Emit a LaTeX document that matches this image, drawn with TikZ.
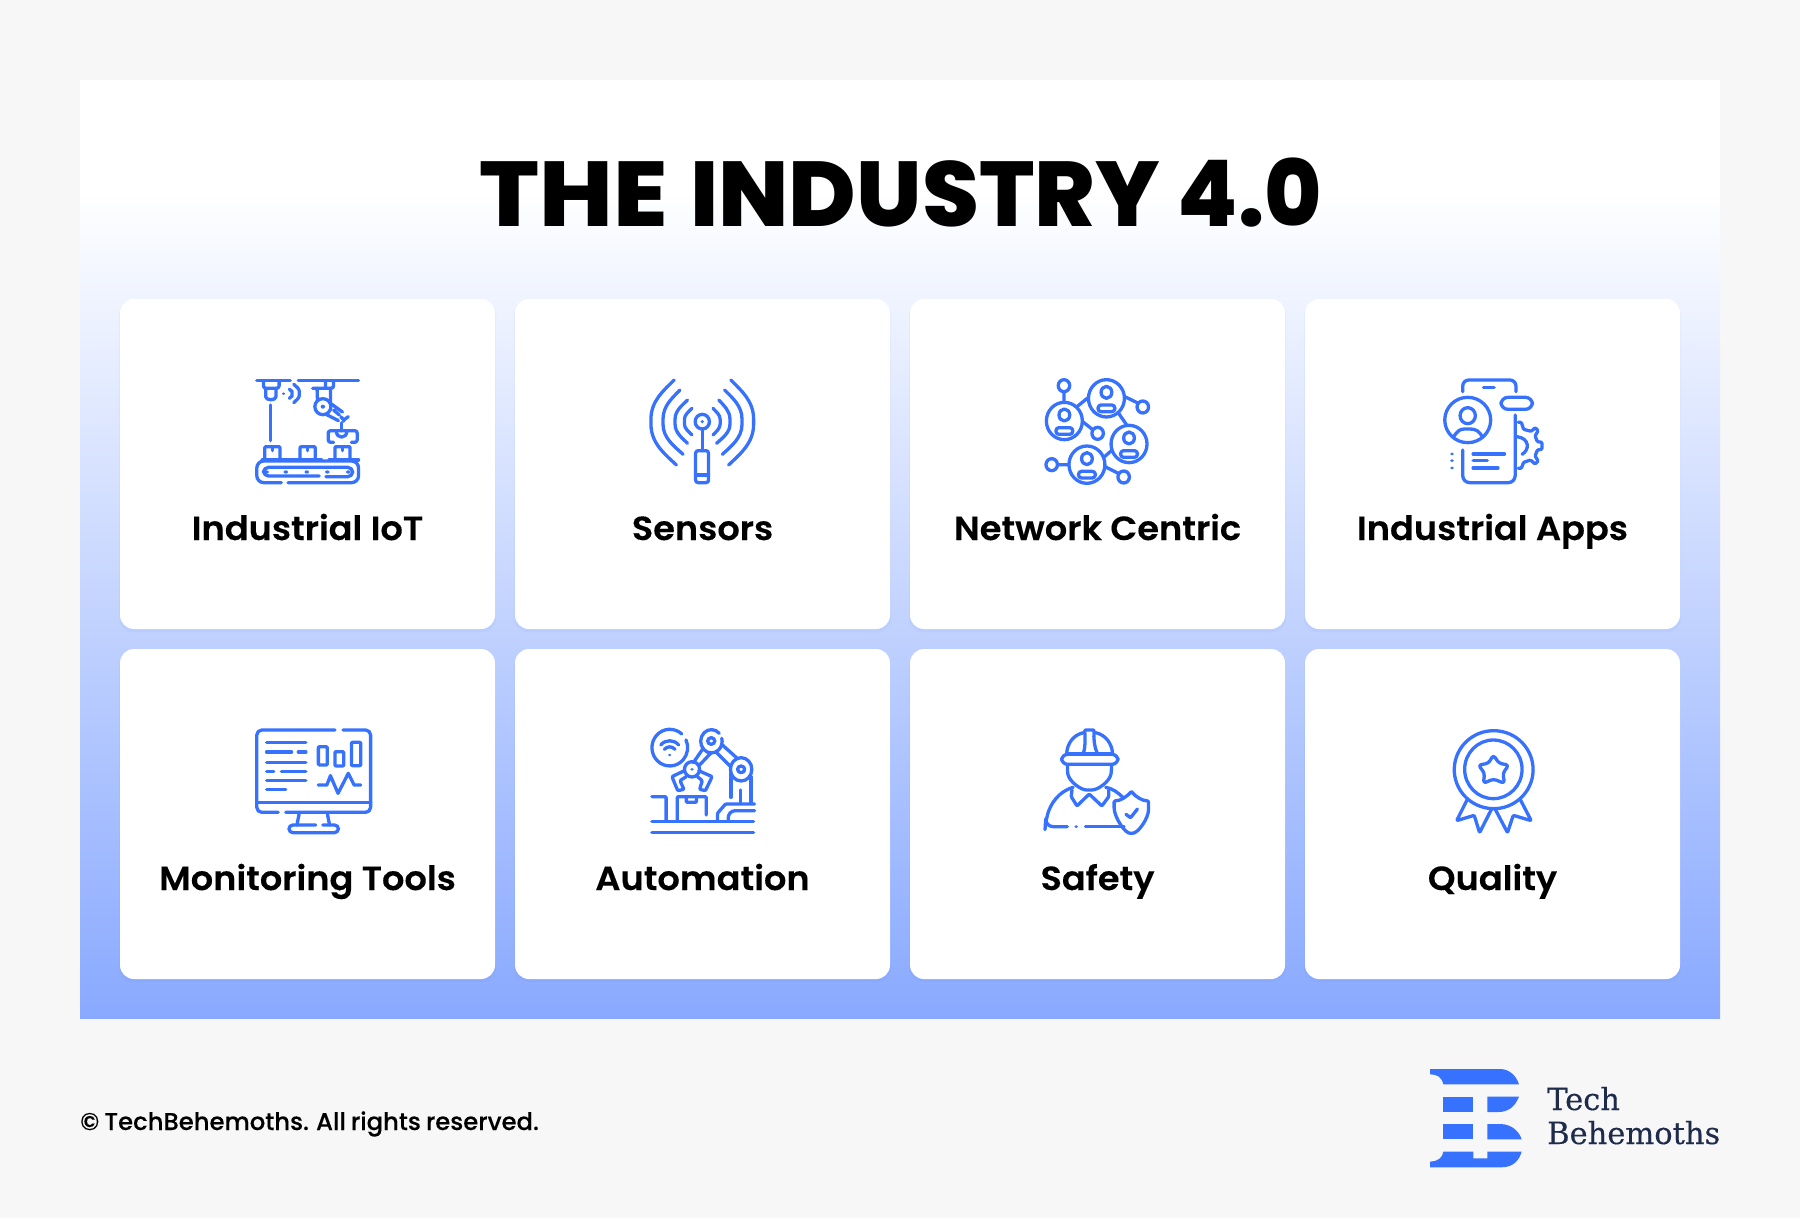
\documentclass[tikz,border=0pt]{standalone}
\usepackage{fontspec}
\setmainfont{Poppins}
\newfontfamily\titlefont{Poppins}[UprightFont=* ExtraBold]
\newfontfamily\labelfont{Poppins}[UprightFont=* SemiBold,FakeStretch=1.05,FakeBold=0.2]
\newfontfamily\footfont{Poppins}[UprightFont=* Medium,WordSpace=0.8,FakeBold=0.15]
\newfontfamily\logofont{DejaVu Serif}[FakeBold=0.35]
\definecolor{bgc}{HTML}{F7F7F7}
\definecolor{iconblue}{HTML}{3772FF}
\definecolor{panelend}{HTML}{89A9FF}
\definecolor{logotext}{HTML}{1F2B4A}
\tikzset{
  card/.style={fill=white,rounded corners=14pt},
  shadowcard/.style={fill=iconblue,fill opacity=0.05,rounded corners=14pt},
  lab/.style={anchor=base,font=\labelfont\fontsize{33.5}{33.5}\selectfont,text=black,inner sep=0pt},
  ic/.style={draw=iconblue,line width=3.3pt,line cap=round,line join=round,rounded corners=2.5pt},
  zA/.style={shift={(230,360)},x=0.4464pt,y=-0.3333pt},
  zB/.style={shift={(1010,360)},x=0.3827pt,y=-0.3333pt},
  zC/.style={shift={(230,710)},x=0.4464pt,y=-0.3333pt},
  zD/.style={shift={(1010,710)},x=0.3827pt,y=-0.3333pt},
  zE/.style={shift={(1400,1050)},x=0.3333pt,y=-0.3333pt},
}
\newcommand{\person}[2]{%
  \path[ic] (#1,#2) ellipse [x radius=47,y radius=56];
  \path[ic] (#1,#2-18) ellipse [x radius=14,y radius=18];
  \path[ic,rounded corners=3pt] (#1-22,#2+40)--(#1-22,#2+20)--(#1+22,#2+20)--(#1+22,#2+40)--cycle;
}
\newcommand{\sat}[2]{\path[ic] (#1,#2) ellipse [x radius=15,y radius=18];}
\newcommand{\boxy}[1]{%
  \path[ic,rounded corners=1pt] (#1,298)--(#1,260)--(#1+34,260)--(#1+34,298);
  \path[ic] (#1+17,260)--(#1+17,272);
}
% arc from (ax,ay) through the extreme point (mx,my) to (bx,by)
\newcommand{\carc}[6]{\path[ic] (#1,#2) .. controls ({#1+0.45*(#3-(#1))},{#2+0.25*(#4-(#2))}) and (#3,{#4-0.5*(#4-(#2))}) .. (#3,#4) .. controls (#3,{#4+0.5*(#6-(#4))}) and ({#5+0.45*(#3-(#5))},{#6+0.25*(#4-(#6))}) .. (#5,#6);}
\begin{document}
\begin{tikzpicture}[x=1pt,y=-1pt]
\useasboundingbox (0,0) rectangle (1800,1218);
\fill[bgc] (0,0) rectangle (1800,1218);
\fill[white] (80,80) rectangle (1720,191);
\shade[top color=white,bottom color=panelend] (80,190) rectangle (1720,1018);
\node[anchor=base,inner sep=0pt] (title) at (901,226) {\titlefont\fontsize{92}{92}\selectfont \scalebox{1.08}[1]{THE}\hspace{22pt}INDUSTRY\hspace{18pt}\scalebox{0.95}[1]{4.0}};
% cards
\foreach \xx in {120,515,910,1305}{
  \foreach \yy in {299,649}{
    \fill[shadowcard] (\xx-1,\yy+2) rectangle (\xx+376,\yy+333);
    \fill[card] (\xx,\yy) rectangle (\xx+375,\yy+330);
  }
}
\node[lab] (l1) at (307.5,540) {Industrial IoT};
\node[lab] (l2) at (702.5,540) {Sensors};
\node[lab] (l3) at (1097.5,540) {Network Centric};
\node[lab] (l4) at (1492.5,540) {Industrial Apps};
\node[lab] (l5) at (307.5,890) {Monitoring Tools};
\node[lab] (l6) at (702.5,890) {Automation};
\node[lab] (l7) at (1097.5,890) {Safety};
\node[lab] (l8) at (1492.5,890) {Quality};
% icon 1: industrial IoT
\begin{scope}[zA]
 \path[ic] (60,62)--(135,62) (153,62)--(288,62);
 \path[ic] (75,62)--(75,85)--(110,85)--(110,62);
 \path[ic] (80,85)--(80,103) .. controls (80,122) and (103,122) .. (103,103)--(103,85);
 \fill[iconblue] (120,101) ellipse [x radius=4,y radius=4];
 \carc{133}{88}{139}{101}{133}{115}
 \carc{143}{73}{155}{100}{143}{128}
 \path[ic] (91,135)--(91,242);
 \path[ic] (232,62)--(232,85)--(185,85) (214,62)--(214,85);
 \path[ic] (195,85)--(196,122) (225,85)--(225,128);
 \path[ic] (208,140) ellipse [x radius=18,y radius=24];
 \fill[iconblue] (208,140) ellipse [x radius=5,y radius=6];
 \path[ic] (225,130)--(252,156) (215,163)--(243,182) (232,150)--(245,165);
 \carc{248}{170}{255}{188}{265}{170}
 \path[ic] (250,188)--(250,212);
 \path[ic] (232,247)--(220,247)--(220,212)--(285,212)--(285,247)--(272,247);
 \path[ic] (238,212) .. controls (238,238) and (262,238) .. (262,212);
 \boxy{78}\boxy{157}\boxy{235}
 \path[ic] (72,300)--(205,300) (222,300)--(288,300);
 \path[ic,rounded corners=7pt] (115,368)--(60,368)--(60,303)--(288,303)--(288,368)--(130,368);
 \path[ic,rounded corners=5pt] (200,348)--(75,348)--(75,322)--(275,322)--(275,350)--(215,350);
 \foreach \q in {82,125,172,218,265}{\fill[iconblue] (\q,336) ellipse [x radius=5,y radius=5];}
\end{scope}
% icon 2: sensors
\begin{scope}[zA]
 \path[ic] (1058,185) ellipse [x radius=16,y radius=22];
 \fill[iconblue] (1058,185) ellipse [x radius=4,y radius=5];
 \path[ic] (1058,207)--(1058,272);
 \path[ic] (1043,272) rectangle (1072,368);
 \path[ic] (1043,345)--(1072,345);
 \carc{1035}{145}{1018}{185}{1035}{225}
 \carc{1025}{120}{997}{185}{1025}{250}
 \carc{1008}{90}{970}{185}{1015}{283}
 \carc{995}{60}{943}{185}{1000}{315}
 \carc{1082}{145}{1098}{185}{1082}{225}
 \carc{1095}{120}{1120}{185}{1090}{250}
 \carc{1108}{90}{1147}{185}{1103}{283}
 \carc{1122}{60}{1173}{185}{1117}{315}
\end{scope}
% icon 3: network
\begin{scope}[zB]
 \person{142}{183}\person{252}{115}\person{311}{252}\person{201}{314}
 \sat{141}{77}\sat{347}{141}\sat{229}{220}\sat{109}{314}\sat{297}{351}
 \path[ic] (141,96)--(141,127) (175,140)--(205,112) (300,110)--(332,128)
   (282,157)--(305,195) (190,185)--(215,208) (245,292)--(265,272)
   (126,314)--(154,314) (248,320)--(283,340);
\end{scope}
% icon 4: apps
\begin{scope}[zB]
 \path[ic,rounded corners=6pt] (1183,95)--(1183,60)--(1322,60)--(1322,95);
 \path[ic] (1237,83)--(1265,83);
 \path[ic] (1196,180) ellipse [x radius=60,y radius=68];
 \path[ic] (1196,167) ellipse [x radius=20,y radius=24];
 \path[ic] (1158,232) .. controls (1170,212) and (1175,207) .. (1195,207) .. controls (1217,207) and (1225,212) .. (1235,232);
 \path[ic,rounded corners=7pt] (1283,112) rectangle (1365,148);
 \path[ic,rounded corners=7pt] (1320,165)--(1320,368)--(1183,368)--(1183,270);
 \path[ic] (1210,282)--(1292,282) (1210,302)--(1247,302) (1210,324)--(1275,324);
 \foreach \q in {282,302,324}{\fill[iconblue] (1155,\q) ellipse [x radius=5,y radius=4.5];}
 \path[ic,rounded corners=1pt] (1328,187)--(1336,187)--(1342,208)--(1362,214)--(1372,203)--(1380,212)--(1372,228)--(1378,245)--(1390,247)--(1390,268)--(1378,270)--(1372,288)--(1380,303)--(1372,312)--(1360,300)--(1342,307)--(1336,325)--(1328,325);
 \path[ic] (1325,230) .. controls (1358,235) and (1358,270) .. (1338,283);
\end{scope}
% icon 5: monitor
\begin{scope}[zC]
 \path[ic,rounded corners=5pt] (235,60)--(60,60)--(60,307)--(108,307);
 \path[ic,rounded corners=5pt] (125,307)--(315,307)--(315,60)--(253,60);
 \path[ic] (60,277)--(315,277);
 \path[ic] (82,98)--(170,98) (82,126)--(138,126) (153,126)--(170,126) (82,157)--(170,157)
   (82,184)--(98,184) (115,184)--(170,184) (82,211)--(170,211) (82,238)--(125,238);
 \path[ic,rounded corners=1pt] (198,110) rectangle (218,165);
 \path[ic,rounded corners=1pt] (235,125) rectangle (255,168);
 \path[ic,rounded corners=1pt] (272,97) rectangle (293,167);
 \path[ic,rounded corners=0pt] (198,225)--(217,225)--(225,197)--(242,250)--(265,190)--(278,225)--(293,225);
 \path[ic] (155,310)--(150,345) (218,310)--(223,345);
 \path[ic,rounded corners=4pt] (192,345)--(132,345)--(132,368)--(243,368)--(243,345)--(208,345);
\end{scope}
% icon 6: automation
\begin{scope}[zC]
 \path[ic] (1012,72) arc [start angle=-48,end angle=-385,x radius=40,y radius=55];
 \path[ic] (973,118) .. controls (980,108) and (990,108) .. (997,118);
 \path[ic] (965,105) .. controls (975,88) and (995,88) .. (1005,105);
 \fill[iconblue] (985,135) ellipse [x radius=4,y radius=4];
 \path[ic] (1096,70) arc [start angle=-43,end angle=-375,x radius=24,y radius=35];
 \path[ic] (1078,93) ellipse [x radius=8,y radius=10];
 \path[ic] (1145,178) ellipse [x radius=24,y radius=35];
 \path[ic] (1145,178) ellipse [x radius=8,y radius=10];
 \path[ic] (1035,178) ellipse [x radius=17,y radius=23];
 \fill[iconblue] (1035,178) ellipse [x radius=4,y radius=4];
 \path[ic] (1060,115)--(1038,158) (1078,128)--(1052,165) (1103,105)--(1138,147) (1088,125)--(1120,168);
 \path[ic,rounded corners=1pt] (1018,182)--(990,200)--(1003,242)--(1017,238)--(1008,212)--(1022,200);
 \path[ic,rounded corners=1pt] (1050,182)--(1080,200)--(1065,242)--(1052,238)--(1058,212)--(1047,200);
 \path[ic] (1122,190)--(1122,262) (1167,200)--(1167,278) (1143,240)--(1143,278);
 \path[ic,rounded corners=1pt] (945,260)--(977,260)--(977,332);
 \path[ic,rounded corners=1pt] (1002,332)--(1002,260)--(1067,260)--(1067,315);
 \path[ic,rounded corners=1pt] (1022,260)--(1022,277)--(1045,277)--(1045,260);
 \path[ic,rounded corners=1pt] (1175,282)--(1110,282)--(1092,310)--(1092,332);
 \path[ic,rounded corners=3pt] (1175,302)--(1125,302)--(1116,315)--(1116,332);
 \path[ic] (945,335)--(1173,335) (945,367)--(1173,367);
\end{scope}
% icon 7: safety
\begin{scope}[zD]
 \path[ic] (148,130) .. controls (150,100) and (165,75) .. (192,68);
 \path[ic] (268,130) .. controls (266,100) and (250,75) .. (224,68);
 \path[ic,rounded corners=1pt] (192,130) .. controls (197,110) and (197,85) .. (195,60)--(220,60) .. controls (218,85) and (220,110) .. (228,130);
 \path[ic,rounded corners=0pt] (150,130)--(265,130);
 \path[ic,rounded corners=6pt] (135,133) rectangle (282,163);
 \path[ic] (150,165)--(150,185) .. controls (155,215) and (185,240) .. (207,240) .. controls (230,240) and (260,215) .. (265,185)--(265,165);
 \path[ic,rounded corners=8pt] (165,232) .. controls (125,245) and (105,285) .. (93,335)--(92,350)--(150,350);
 \fill[iconblue] (173,350) ellipse [x radius=5,y radius=4.5];
 \path[ic] (197,350)--(298,350);
 \path[ic] (250,232) .. controls (268,235) and (282,248) .. (295,262);
 \path[ic,rounded corners=1pt] (162,240)--(160,260)--(175,288)--(207,252)--(240,288)--(258,260)--(258,240);
 \path[ic,rounded corners=1pt] (317,245) .. controls (303,262) and (290,272) .. (272,273) -- (272,295) .. controls (275,325) and (300,370) .. (317,370) .. controls (335,370) and (362,325) .. (362,295) -- (362,273) .. controls (345,272) and (330,262) .. (317,245);
 \path[ic,rounded corners=0pt] (303,313)--(315,323)--(333,297);
\end{scope}
% icon 8: quality
\begin{scope}[zD]
 \path[ic] (1287,65) arc [start angle=-77,end angle=-463,x radius=103,y radius=117];
 \fill[iconblue] (1263,62) ellipse [x radius=5,y radius=4.5];
 \path[ic] (1263,178) ellipse [x radius=75,y radius=88];
 \path[ic,rounded corners=3pt] (1263,135)--(1278,160)--(1303,165)--(1288,190)--(1292,220)--(1263,207)--(1237,220)--(1240,190)--(1224,165)--(1250,160)--cycle;
 \path[ic,rounded corners=1pt] (1195,268)--(1167,332)--(1213,316)--(1227,368)--(1258,298);
 \path[ic,rounded corners=1pt] (1268,298)--(1300,368)--(1315,316)--(1362,332)--(1333,268);
\end{scope}
% footer
\node[anchor=base west,inner sep=0pt] (copy) at (80,1130) {\footfont\fontsize{24.3}{24.3}\selectfont © TechBehemoths. All rights reserved.};
% logo
\begin{scope}[zE]
 \fill[iconblue] (90,57)--(300,57) .. controls (330,57) and (350,80) .. (357,103)--(130,103) .. controls (125,80) and (110,73) .. (90,73)--cycle;
 \fill[iconblue] (130,140) rectangle (220,186);
 \fill[iconblue] (262,140)--(357,140) .. controls (345,170) and (325,186) .. (295,186)--(262,186)--cycle;
 \fill[iconblue] (130,222) rectangle (220,268);
 \fill[iconblue] (262,222)--(300,222) .. controls (335,222) and (358,245) .. (365,268)--(262,268)--cycle;
 \fill[iconblue] (90,352)--(305,352) .. controls (340,352) and (358,330) .. (365,305)--(262,305)--(262,325)--(220,325)--(220,305)--(130,305) .. controls (128,325) and (110,335) .. (90,335)--cycle;
\end{scope}
\node[anchor=base west,inner sep=0pt,text=logotext] (tech) at (1547,1110) {\logofont\fontsize{30.5}{30.5}\selectfont Tech};
\node[anchor=base west,inner sep=0pt,text=logotext] (behe) at (1547,1144) {\logofont\fontsize{30.5}{30.5}\selectfont Behemoths};
\end{tikzpicture}
\end{document}
